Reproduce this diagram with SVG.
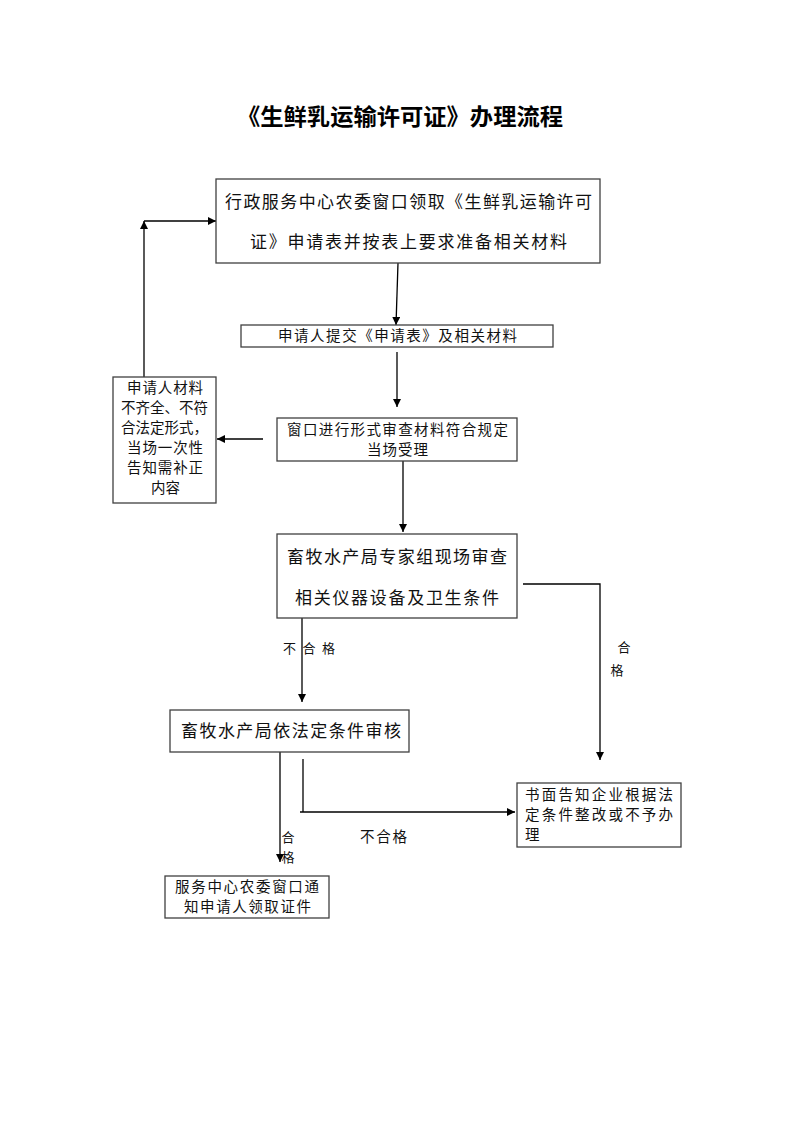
<svg xmlns="http://www.w3.org/2000/svg" width="793" height="1122" viewBox="0 0 793 1122">
<style>
.box{fill:#fff;stroke:#404040;stroke-width:1.3}
.ln{fill:none;stroke:#000;stroke-width:1.3}
.t{font-family:"Noto Sans CJK SC","Liberation Sans",sans-serif;fill:#111}
.b17{font-size:17px}
.b14{font-size:14.5px}
.lab{font-size:13px}
.title{font-family:"Noto Sans CJK SC","Liberation Sans",sans-serif;font-size:23px;font-weight:bold;fill:#000}
</style>
<defs>
<marker id="ah" viewBox="0 0 10 10" refX="10" refY="5" markerWidth="8" markerHeight="8" markerUnits="userSpaceOnUse" orient="auto">
<path d="M0,0 L10,5 L0,10 z" fill="#000"/>
</marker>
</defs>
<rect width="793" height="1122" fill="#fff"/>
<text class="title" x="237" y="125" textLength="326" lengthAdjust="spacingAndGlyphs">《生鲜乳运输许可证》办理流程</text>

<g id="connectors">
<path class="ln" d="M398,263 L396,325" marker-end="url(#ah)"/>
<path class="ln" d="M397,352 L397,407" marker-end="url(#ah)"/>
<path class="ln" d="M263,439 L217,439" marker-end="url(#ah)"/>
<path class="ln" d="M144,377 L144,221" marker-end="url(#ah)"/>
<path class="ln" d="M144,221 L216,221" marker-end="url(#ah)"/>
<path class="ln" d="M403,461 L403,532" marker-end="url(#ah)"/>
<path class="ln" d="M523,584 L600,584 L600,760" marker-end="url(#ah)"/>
<path class="ln" d="M302,618 L302,702" marker-end="url(#ah)"/>
<path class="ln" d="M280,752 L280,862" marker-end="url(#ah)"/>
<path class="ln" d="M303,759 L303,812"/>
<path class="ln" d="M300,812 L515,812" marker-end="url(#ah)"/>
<text class="t lab" x="283" y="653" textLength="52" lengthAdjust="spacing">不 合 格</text>
<text class="t lab" x="624" y="652" text-anchor="middle">合</text>
<text class="t lab" x="617" y="675" text-anchor="middle">格</text>
<text class="t lab" x="288" y="842" text-anchor="middle">合</text>
<text class="t lab" x="288" y="862" text-anchor="middle">格</text>
<text class="t b14" x="360" y="842" textLength="47" lengthAdjust="spacing">不合格</text>
</g>

<g id="node1">
<rect class="box" x="216" y="179" width="384" height="84"/>
<text class="t b17" x="225" y="208" textLength="367" lengthAdjust="spacing">行政服务中心农委窗口领取《生鲜乳运输许可</text>
<text class="t b17" x="250" y="248" textLength="317" lengthAdjust="spacing">证》申请表并按表上要求准备相关材料</text>
</g>

<g id="node2">
<rect class="box" x="241" y="325" width="312" height="22"/>
<text class="t b14" x="278" y="341" textLength="239" lengthAdjust="spacing">申请人提交《申请表》及相关材料</text>
</g>

<g id="node3">
<rect class="box" x="277" y="418" width="240" height="43"/>
<text class="t b14" x="287" y="435" textLength="221" lengthAdjust="spacing">窗口进行形式审查材料符合规定</text>
<text class="t b14" x="367" y="455" textLength="61" lengthAdjust="spacing">当场受理</text>
</g>

<g id="node4">
<rect class="box" x="113" y="377" width="103" height="126"/>
<text class="t b14" x="127" y="393" textLength="76" lengthAdjust="spacing">申请人材料</text>
<text class="t b14" x="121" y="413" textLength="87" lengthAdjust="spacing">不齐全、不符</text>
<text class="t b14" x="121" y="433" textLength="87" lengthAdjust="spacing">合法定形式，</text>
<text class="t b14" x="127" y="453" textLength="76" lengthAdjust="spacing">当场一次性</text>
<text class="t b14" x="127" y="473" textLength="76" lengthAdjust="spacing">告知需补正</text>
<text class="t b14" x="151" y="493" textLength="29" lengthAdjust="spacing">内容</text>
</g>

<g id="node5">
<rect class="box" x="277" y="534" width="240" height="84"/>
<text class="t b17" x="287" y="563" textLength="220" lengthAdjust="spacing">畜牧水产局专家组现场审查</text>
<text class="t b17" x="295" y="604" textLength="204" lengthAdjust="spacing">相关仪器设备及卫生条件</text>
</g>

<g id="node6">
<rect class="box" x="170" y="710" width="239" height="42"/>
<text class="t b17" x="181" y="737" textLength="220" lengthAdjust="spacing">畜牧水产局依法定条件审核</text>
</g>

<g id="node7">
<rect class="box" x="165" y="876" width="164" height="42"/>
<text class="t b14" x="175" y="892" textLength="144" lengthAdjust="spacing">服务中心农委窗口通</text>
<text class="t b14" x="184" y="912" textLength="127" lengthAdjust="spacing">知申请人领取证件</text>
</g>

<g id="node8">
<rect class="box" x="517" y="783" width="164" height="64"/>
<text class="t b14" x="525" y="800" textLength="148" lengthAdjust="spacing">书面告知企业根据法</text>
<text class="t b14" x="525" y="820" textLength="148" lengthAdjust="spacing">定条件整改或不予办</text>
<text class="t b14" x="525" y="840">理</text>
</g>
</svg>
